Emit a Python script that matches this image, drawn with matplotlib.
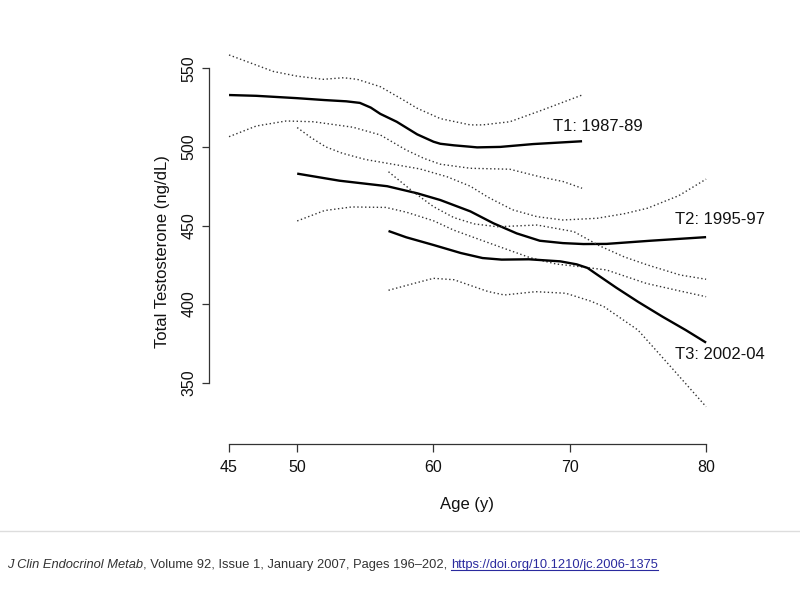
import matplotlib
matplotlib.use("Agg")
import matplotlib.pyplot as plt
from matplotlib.lines import Line2D

plt.rcParams['font.family'] = ['Liberation Sans', 'DejaVu Sans']

# T1: 1987-89
t1_age = [45, 47, 50, 52, 53.6, 54.6, 55.4, 56.1, 57.3, 58.8, 60.0, 60.5, 61.5, 62.7, 63.2, 64.9, 67.3, 70.9]
t1_fit = [533, 532.5, 531, 529.8, 529, 528, 525, 521, 516, 508, 503.3, 502, 501, 500.1, 499.7, 500, 501.8, 503.6]
t1_up_age = [45, 48.25, 50, 51.9, 53.4, 54.4, 56.1, 57.8, 58.8, 60.5, 62.7, 63.6, 65.6, 68.0, 70.9]
t1_up = [558.5, 548, 545, 543, 544, 543, 538.3, 529.8, 524.6, 518, 514, 514, 516, 523.5, 533]
t1_lo_age = [45, 47, 49.2, 51.2, 54.1, 56.1, 58.0, 59.3, 60.5, 62.7, 65.6, 67.8, 69.5, 70.9]
t1_lo = [506.5, 513.3, 516.5, 516, 512.5, 507.6, 498, 492.7, 489, 486.4, 485.8, 481, 478, 473.7]

# T2: 1995-97
t2_age = [50, 53.1, 56.6, 58.8, 60.5, 62.7, 64.4, 66.1, 67.8, 69.5, 71.0, 72.7, 75.9, 80]
t2_fit = [483, 478.5, 475, 470.5, 466.2, 459, 451.4, 445, 440.3, 438.8, 438.2, 438.3, 440.3, 442.6]
t2_up_age = [50, 51, 52.1, 53.3, 55, 57, 59, 61, 62.7, 64, 65.8, 67.6, 69.5, 72, 74, 75.7, 78, 80]
t2_up = [512.3, 506, 500, 496, 492, 489, 486, 481, 475, 468, 460, 455.6, 453.5, 454.6, 457.5, 461, 469, 479.5]
t2_lo_age = [50, 52, 54, 56.5, 58, 60, 61.5, 63.4, 65, 67.1, 69, 70.75, 72.7, 75.6, 78, 80]
t2_lo = [452.9, 459.5, 461.8, 461.5, 458.5, 453, 447, 441, 436, 429.5, 425.5, 423.8, 421.7, 413.2, 408.5, 404.7]

# T3: 2002-04
t3_age = [56.7, 58, 60, 62, 63.6, 65, 67, 69.3, 70.5, 71.3, 72, 73.4, 75, 76.8, 78.5, 80]
t3_fit = [446.5, 442.5, 437.6, 432.5, 429.3, 428.3, 428.5, 427.2, 425.3, 423, 418.8, 410.5, 401.5, 392, 383.5, 375.5]
t3_up_age = [56.7, 58.5, 60, 61.5, 63, 64.7, 67.6, 70.3, 72.2, 74, 75.7, 78.1, 80]
t3_up = [484.2, 471.5, 462, 455, 451, 449.2, 450.3, 446.1, 437, 430, 424.9, 418.5, 415.8]
t3_lo_age = [56.7, 58.5, 60, 61.5, 62.5, 64, 65.2, 67.5, 69.7, 71.5, 72.5, 75, 77.4, 80]
t3_lo = [408.8, 413, 416.4, 415.5, 412.5, 408, 405.8, 407.9, 406.9, 402, 398.4, 383.5, 360.2, 334.7]

x_ticks = [45, 50, 60, 70, 80]
y_ticks = [350, 400, 450, 500, 550]

series = [
    ("T1: 1987-89", t1_age, t1_fit, t1_up_age, t1_up, t1_lo_age, t1_lo, (68.8, 513)),
    ("T2: 1995-97", t2_age, t2_fit, t2_up_age, t2_up, t2_lo_age, t2_lo, (77.7, 453.5)),
    ("T3: 2002-04", t3_age, t3_fit, t3_up_age, t3_up, t3_lo_age, t3_lo, (77.7, 368.2)),
]

fig = plt.figure(figsize=(8, 6), dpi=100)
ax = fig.add_axes([209 / 800, 156 / 600, 517 / 800, 401 / 600])

dot = (0, (1, 1.8))
for name, a, f, ua, u, la, lo, pos in series:
    ax.plot(a, f, color="black", lw=1.7, solid_capstyle="butt", solid_joinstyle="round")
    ax.plot(ua, u, color="#333333", lw=1.0, linestyle=dot)
    ax.plot(la, lo, color="#333333", lw=1.0, linestyle=dot)
    ax.text(pos[0], pos[1], name, fontsize=12, ha="left", va="center", color="#111111")

ax.set_xlim(43.53, 81.46)
ax.set_ylim(311.0, 566.1)
ax.set_xticks(x_ticks)
ax.set_yticks(y_ticks)
ax.set_yticklabels([str(v) for v in y_ticks], rotation=90, va="center")

for s in ["top", "right"]:
    ax.spines[s].set_visible(False)
ax.spines["left"].set_bounds(350, 550)
ax.spines["bottom"].set_bounds(45, 80)
for s in ["left", "bottom"]:
    ax.spines[s].set_linewidth(0.9)
    ax.spines[s].set_color("#333333")
ax.tick_params(axis="both", direction="out", length=5.4, width=0.9, color="#333333",
               labelsize=11.5, labelcolor="#111111")
ax.tick_params(axis="y", pad=3.5)
ax.tick_params(axis="x", pad=6.3)

ax.set_xlabel("Age (y)", fontsize=12, color="#111111")
ax.set_ylabel("Total Testosterone (ng/dL)", fontsize=12, color="#111111")
ax.xaxis.set_label_coords(0.499, -0.132)
ax.yaxis.set_label_coords(-0.0754, 0.479)

# separator and citation
fig.add_artist(Line2D([0, 1], [1 - 531 / 600, 1 - 531 / 600], color="#dddddd", lw=1.0))

fig.canvas.draw()
r = fig.canvas.get_renderer()
x0 = 7 / 800
yc = 1 - 565 / 600
parts = [
    ("J Clin Endocrinol Metab", "italic", "#333333"),
    (", Volume 92, Issue 1, January 2007, Pages 196\u2013202, ", "normal", "#333333"),
    ("https://doi.org/10.1210/jc.2006-1375", "normal", "#2a2a9e"),
]
for txt, style, col in parts:
    t = fig.text(x0, yc, txt, fontsize=9.3, style=style, color=col, ha="left", va="center")
    bb = t.get_window_extent(renderer=r)
    if col == "#2a2a9e":
        uy = (bb.y0 + 1) / 600
        fig.add_artist(Line2D([bb.x0 / 800, bb.x1 / 800], [uy, uy], color=col, lw=0.8))
    x0 = bb.x1 / 800

fig.savefig("out.png", dpi=100)
